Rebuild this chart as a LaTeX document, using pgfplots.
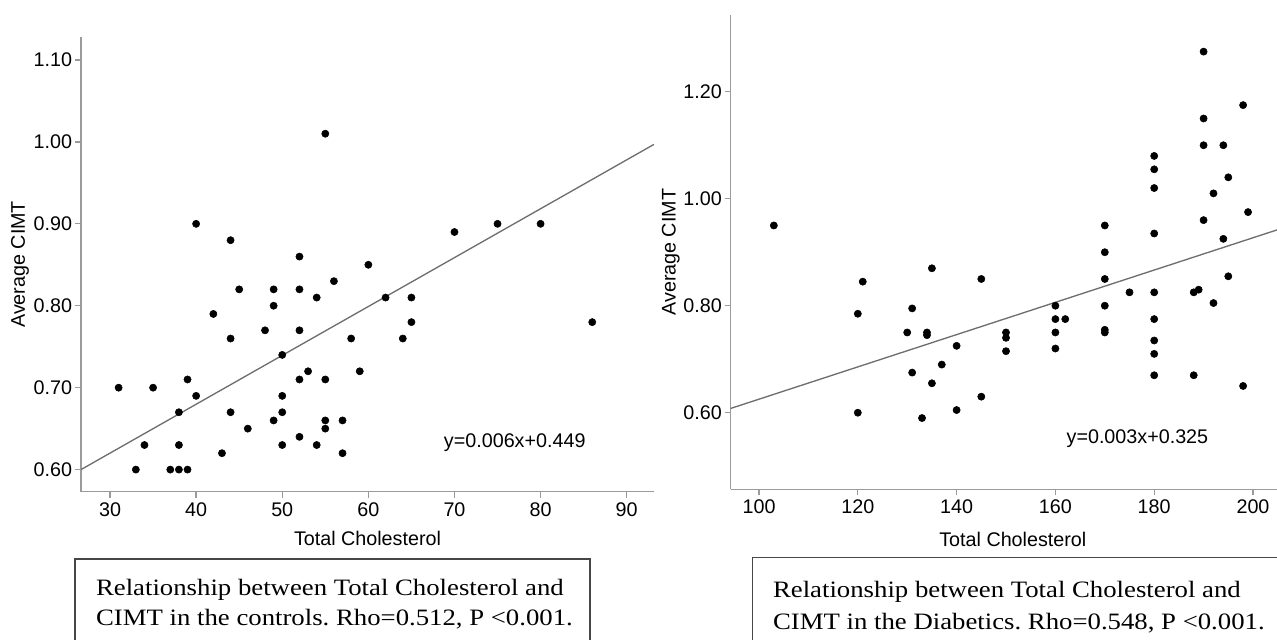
\documentclass[border=0pt]{standalone}
\usepackage{fontspec}
\setmainfont{Liberation Sans}
\newfontfamily\capfont{Liberation Serif}
\usepackage{graphicx}
\usepackage{pgfplots}
\usepackage{pgfplotstable}
\pgfplotsset{compat=1.18}
\frenchspacing
\definecolor{axisgray}{RGB}{155,155,155}
\definecolor{linegray}{RGB}{110,110,110}
\definecolor{boxgray}{RGB}{70,70,70}
\pgfplotstableread{
x y
31 0.70
33 0.60
34 0.63
35 0.70
37 0.60
38 0.60
38 0.63
38 0.67
39 0.60
39 0.71
40 0.69
40 0.90
42 0.79
43 0.62
44 0.67
44 0.76
44 0.88
45 0.82
46 0.65
48 0.77
49 0.66
49 0.80
49 0.82
50 0.63
50 0.67
50 0.69
50 0.74
52 0.64
52 0.71
52 0.77
52 0.82
52 0.86
53 0.72
54 0.63
54 0.81
55 0.65
55 0.66
55 0.71
55 1.01
56 0.83
57 0.62
57 0.66
58 0.76
59 0.72
60 0.85
62 0.81
64 0.76
65 0.78
65 0.81
70 0.89
75 0.90
80 0.90
86 0.78
}\controls
\pgfplotstableread{
x y
103 0.950
120 0.600
120 0.785
121 0.845
130 0.750
131 0.675
131 0.795
133 0.590
134 0.745
134 0.750
135 0.655
135 0.870
137 0.690
140 0.605
140 0.725
145 0.630
145 0.850
150 0.715
150 0.740
150 0.750
160 0.720
160 0.750
160 0.775
160 0.800
162 0.775
170 0.750
170 0.755
170 0.800
170 0.850
170 0.900
170 0.950
175 0.825
180 0.670
180 0.710
180 0.735
180 0.775
180 0.825
180 0.935
180 1.020
180 1.055
180 1.080
188 0.670
188 0.825
189 0.830
190 0.960
190 1.100
190 1.150
190 1.275
192 0.805
192 1.010
194 0.925
194 1.100
195 0.855
195 1.040
198 0.650
198 1.175
199 0.975
}\diabetics
\pgfplotsset{
 myaxis/.style={
  scale only axis,
  axis x line*=bottom, axis y line*=left,
  axis line style={axisgray, line width=1.1pt},
  tick style={axisgray, line width=1pt},
  major tick length=4.5pt,
  tick align=outside,
  minor tick num=0,
  font=\fontsize{14.8}{17}\selectfont,
  /pgf/number format/assume math mode=true,
  yticklabel style={inner xsep=2pt, /pgf/number format/fixed, /pgf/number format/fixed zerofill, /pgf/number format/precision=2},
  xticklabel style={/pgf/number format/fixed, /pgf/number format/precision=0},
  every axis label/.append style={font=\fontsize{14.8}{17}\selectfont},
 }
}
\begin{document}
\begin{tikzpicture}
\useasboundingbox (0,0) rectangle (957.75pt,-479.25pt);
\clip (0,0) rectangle (957.75pt,-479.25pt);
% left panel
\begin{axis}[myaxis,
  at={(60.75pt,-368.78pt)}, anchor=south west,
  width=429.75pt, height=341.0pt,
  xmin=26.63, xmax=93.17, ymin=0.573, ymax=1.128,
  xtick={30,40,50,60,70,80,90},
  ytick={0.6,0.7,0.8,0.9,1.0,1.1},
  xlabel={Total Cholesterol}, ylabel={Average CIMT},
  xlabel style={at={(axis description cs:0.5,-0.1023)}, anchor=center},
  ylabel style={at={(axis description cs:-0.1065,0.5)}, anchor=center},
]
\addplot[linegray, line width=1pt, no marks] coordinates {(26.63,0.600) (93.17,0.997)};
\addplot[only marks, mark=*, mark size=2.7pt, black] table[x=x,y=y] {\controls};
\node at (axis cs:77.0,0.6326) {y=0.006x+0.449};
\end{axis}
% right panel
\begin{axis}[myaxis,
  at={(548.03pt,-366.98pt)}, anchor=south west,
  width=423.2pt, height=355.7pt,
  xmin=94.27, xmax=208.5, ymin=0.4568, ymax=1.3434,
  xtick={100,120,140,160,180,200},
  ytick={0.6,0.8,1.0,1.2},
  xlabel={Total Cholesterol}, ylabel={Average CIMT},
  xlabel style={at={(axis description cs:0.5,-0.1048)}, anchor=center},
  ylabel style={at={(axis description cs:-0.106,0.5)}, anchor=center},
]
\addplot[linegray, line width=1pt, no marks] coordinates {(94.27,0.608) (208.5,0.9527)};
\addplot[only marks, mark=*, mark size=2.7pt, black] table[x=x,y=y] {\diabetics};
\node at (axis cs:176.6,0.5508) {y=0.003x+0.325};
\end{axis}
% caption boxes
\draw[boxgray, line width=0.9pt] ({75*0.75pt},{-559*0.75pt}) rectangle ({590*0.75pt},{-700*0.75pt});
\draw[boxgray, line width=0.9pt] ({752.6*0.75pt},{-557.7*0.75pt}) rectangle ({1320*0.75pt},{-700*0.75pt});
\begin{scope}[every node/.style={inner sep=0pt, anchor=base west, font=\capfont\fontsize{17.6}{20}\selectfont}]
\node at ({95.8*0.75pt},{-595*0.75pt}) {\scalebox{1.14}[1]{Relationship between Total Cholesterol and}};
\node at ({95.8*0.75pt},{-625.5*0.75pt}) {\scalebox{1.14}[1]{CIMT in the controls. Rho=0.512, P <0.001.}};
\node at ({772.8*0.75pt},{-597.4*0.75pt}) {\scalebox{1.14}[1]{Relationship between Total Cholesterol and}};
\node at ({772.8*0.75pt},{-629.4*0.75pt}) {\scalebox{1.14}[1]{CIMT in the Diabetics. Rho=0.548, P <0.001.}};
\end{scope}
\end{tikzpicture}
\end{document}
